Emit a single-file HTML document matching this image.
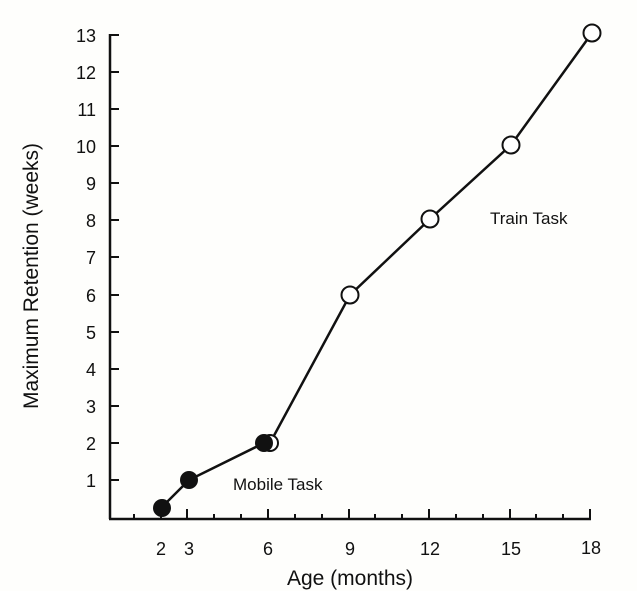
<!DOCTYPE html>
<html><head><meta charset="utf-8"><style>body{margin:0;background:#fff}svg{display:block}</style></head><body>
<svg width="637" height="591" xmlns="http://www.w3.org/2000/svg" font-family="Liberation Sans, Arial, sans-serif" fill="#111">
<rect width="637" height="591" fill="#fefefc"/>
<g stroke="#111" stroke-width="2.5" fill="none">
<line x1="110" y1="34" x2="110" y2="519"/>
<line x1="109" y1="519" x2="591" y2="519"/>
</g>
<g stroke="#111" stroke-width="2">
<line x1="110" y1="35" x2="119" y2="35"/><line x1="110" y1="72" x2="119" y2="72"/><line x1="110" y1="109" x2="119" y2="109"/><line x1="110" y1="146" x2="119" y2="146"/><line x1="110" y1="183" x2="119" y2="183"/><line x1="110" y1="220" x2="119" y2="220"/><line x1="110" y1="257" x2="119" y2="257"/><line x1="110" y1="295" x2="119" y2="295"/><line x1="110" y1="332" x2="119" y2="332"/><line x1="110" y1="369" x2="119" y2="369"/><line x1="110" y1="406" x2="119" y2="406"/><line x1="110" y1="443" x2="119" y2="443"/><line x1="110" y1="480" x2="119" y2="480"/>
<line x1="134" y1="519" x2="134" y2="514"/><line x1="161" y1="519" x2="161" y2="514"/><line x1="187" y1="519" x2="187" y2="509"/><line x1="214" y1="519" x2="214" y2="514"/><line x1="241" y1="519" x2="241" y2="514"/><line x1="268" y1="519" x2="268" y2="509"/><line x1="295" y1="519" x2="295" y2="514"/><line x1="322" y1="519" x2="322" y2="514"/><line x1="349" y1="519" x2="349" y2="509"/><line x1="375" y1="519" x2="375" y2="514"/><line x1="402" y1="519" x2="402" y2="514"/><line x1="429" y1="519" x2="429" y2="509"/><line x1="456" y1="519" x2="456" y2="514"/><line x1="483" y1="519" x2="483" y2="514"/><line x1="510" y1="519" x2="510" y2="509"/><line x1="536" y1="519" x2="536" y2="514"/><line x1="563" y1="519" x2="563" y2="514"/><line x1="590" y1="519" x2="590" y2="509"/>
</g>
<g font-size="18" text-anchor="end">
<text x="96" y="42">13</text><text x="96" y="79">12</text><text x="96" y="116">11</text><text x="96" y="153">10</text><text x="96" y="190">9</text><text x="96" y="227">8</text><text x="96" y="264">7</text><text x="96" y="302">6</text><text x="96" y="339">5</text><text x="96" y="376">4</text><text x="96" y="413">3</text><text x="96" y="450">2</text><text x="96" y="487">1</text>
</g>
<g font-size="18" text-anchor="middle">
<text x="161" y="555">2</text><text x="189" y="555">3</text><text x="268" y="555">6</text><text x="350" y="555">9</text><text x="430" y="555">12</text><text x="511" y="555">15</text><text x="591" y="554">18</text>
</g>
<text x="350" y="585" font-size="21" text-anchor="middle">Age (months)</text>
<text transform="translate(38,276) rotate(-90)" font-size="21" text-anchor="middle">Maximum Retention (weeks)</text>
<text x="233" y="490" font-size="17">Mobile Task</text>
<text x="490" y="224" font-size="17">Train Task</text>
<polyline points="161,508 189,480 264,443 270,443 350,295 430,219 511,145 592,33" fill="none" stroke="#111" stroke-width="2.5"/>
<g fill="#fff" stroke="#111" stroke-width="2">
<circle cx="270" cy="443" r="8"/><circle cx="350" cy="295" r="8.5"/><circle cx="430" cy="219" r="8.5"/><circle cx="511" cy="145" r="8.5"/><circle cx="592" cy="33" r="8.5"/>
</g>
<g fill="#111">
<circle cx="162" cy="508" r="9"/><circle cx="189" cy="480" r="9"/><circle cx="264" cy="443" r="9"/>
</g>
</svg>
</body></html>
